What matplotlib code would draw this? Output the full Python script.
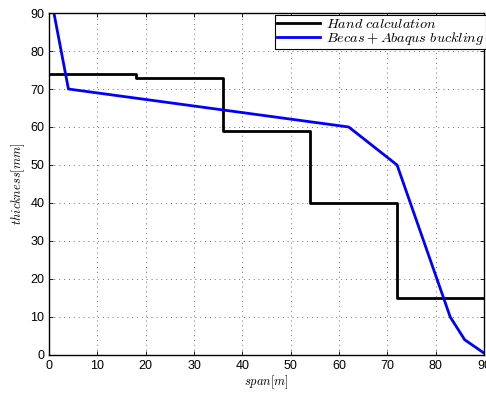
import matplotlib
matplotlib.use("Agg")
import matplotlib.pyplot as plt

plt.rcParams['font.family'] = ['Liberation Sans', 'DejaVu Sans']
plt.rcParams['mathtext.fontset'] = 'cm'

hand_x = [0, 18, 18, 36, 36, 54, 54, 72, 72, 90]
hand_y = [74, 74, 73, 73, 59, 59, 40, 40, 15, 15]
becas_x = [1, 4, 62, 72, 83, 86, 90]
becas_y = [90, 70, 60, 50, 10, 4, 0.5]
xticks = list(range(0, 91, 10))
yticks = list(range(0, 91, 10))

fig = plt.figure(figsize=(4.86, 3.94), dpi=100)
ax = fig.add_axes([0.101, 0.099, 0.895, 0.868])
ax.plot(hand_x, hand_y, color='black', lw=2.0, label=r'$Hand\ calculation$')
ax.plot(becas_x, becas_y, color='#0000ff', lw=2.0, label=r'$Becas + Abaqus\ buckling$')
ax.set_xlim(0, 90)
ax.set_ylim(0, 90)
ax.set_xticks(xticks)
ax.set_yticks(yticks)
ax.tick_params(direction='in', top=True, right=True, labelsize=9, length=3, width=0.6)
ax.grid(True, linestyle=(0, (1, 4)), color='#707070', lw=0.7)
for s in ax.spines.values():
    s.set_linewidth(1.0)
ax.set_xlabel(r'$span[m]$', fontsize=9, labelpad=1)
ax.set_ylabel(r'$thickness[mm]$', fontsize=9, labelpad=2)
leg = ax.legend(loc='upper right', fontsize=10.3, fancybox=False, framealpha=1,
                edgecolor='black', borderpad=0.15, labelspacing=-0.1,
                handlelength=3.0, handletextpad=0.4, borderaxespad=0.15,
                bbox_to_anchor=(1.01, 1.0))
leg.get_frame().set_linewidth(0.8)
fig.savefig('out.png', dpi=100)
